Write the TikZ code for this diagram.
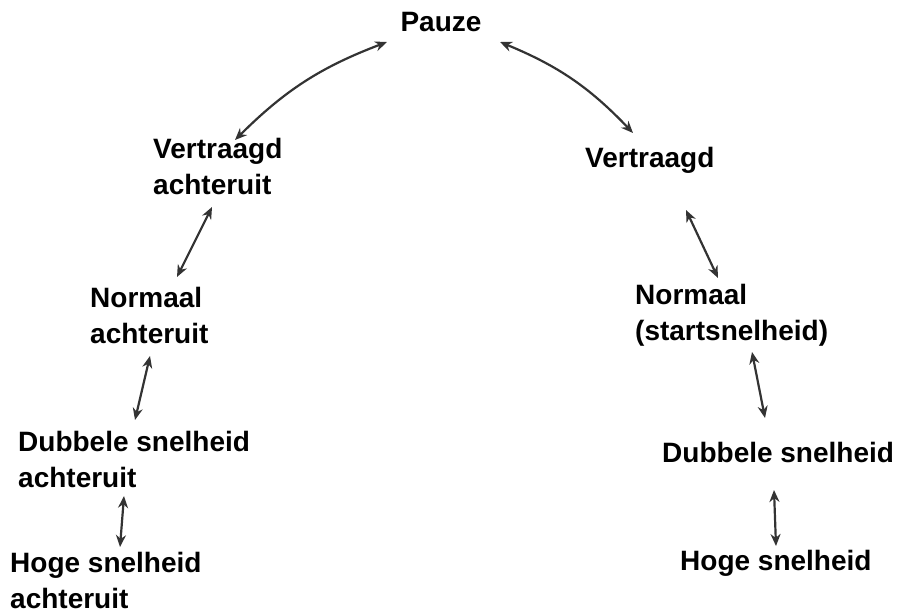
\documentclass[tikz,border=0pt]{standalone}
\usepackage{fontspec}
\setmainfont{Liberation Sans}
\usetikzlibrary{arrows.meta}
\begin{document}
\begin{tikzpicture}[x=1pt,y=-1pt,
  lbl/.style={anchor=west,inner sep=0pt,align=left,font=\bfseries\fontsize{28}{36}\selectfont},
  arr/.style={{Stealth[length=12pt,width=10pt]}-{Stealth[length=12pt,width=10pt]},line width=2.2pt,draw=black!80}]
\useasboundingbox (0,0) rectangle (912,615);
\node[lbl,anchor=center] (p) at (441,22) {Pauze};
\node[lbl] (va) at (153,166) {Vertraagd\\achteruit};
\node[lbl] (na) at (90,315) {Normaal\\achteruit};
\node[lbl] (da) at (18,459) {Dubbele snelheid\\achteruit};
\node[lbl] (ha) at (10,580) {Hoge snelheid\\achteruit};
\node[lbl] (v) at (585,160) {Vertraagd};
\node[lbl] (n) at (635,315) {Normaal\\(startsnelheid)};
\node[lbl] (d) at (662,452) {Dubbele snelheid};
\node[lbl] (h) at (680,563) {Hoge snelheid};
\coordinate (a1) at (387,42); \coordinate (a2) at (235,140);
\coordinate (b1) at (500,42); \coordinate (b2) at (633,133);
\coordinate (c1) at (212,207); \coordinate (c2) at (177,277);
\coordinate (d1) at (686,210); \coordinate (d2) at (718,278);
\coordinate (e1) at (150,356); \coordinate (e2) at (135,420);
\coordinate (f1) at (752,352); \coordinate (f2) at (765,418);
\coordinate (g1) at (124,496); \coordinate (g2) at (120,547);
\coordinate (h1) at (774,490); \coordinate (h2) at (776,546);
\draw[arr] (a1) to[bend right=12] (a2);
\draw[arr] (b1) to[bend left=12] (b2);
\draw[arr] (c1) -- (c2);
\draw[arr] (d1) -- (d2);
\draw[arr] (e1) -- (e2);
\draw[arr] (f1) -- (f2);
\draw[arr] (g1) -- (g2);
\draw[arr] (h1) -- (h2);
\end{tikzpicture}
\end{document}
